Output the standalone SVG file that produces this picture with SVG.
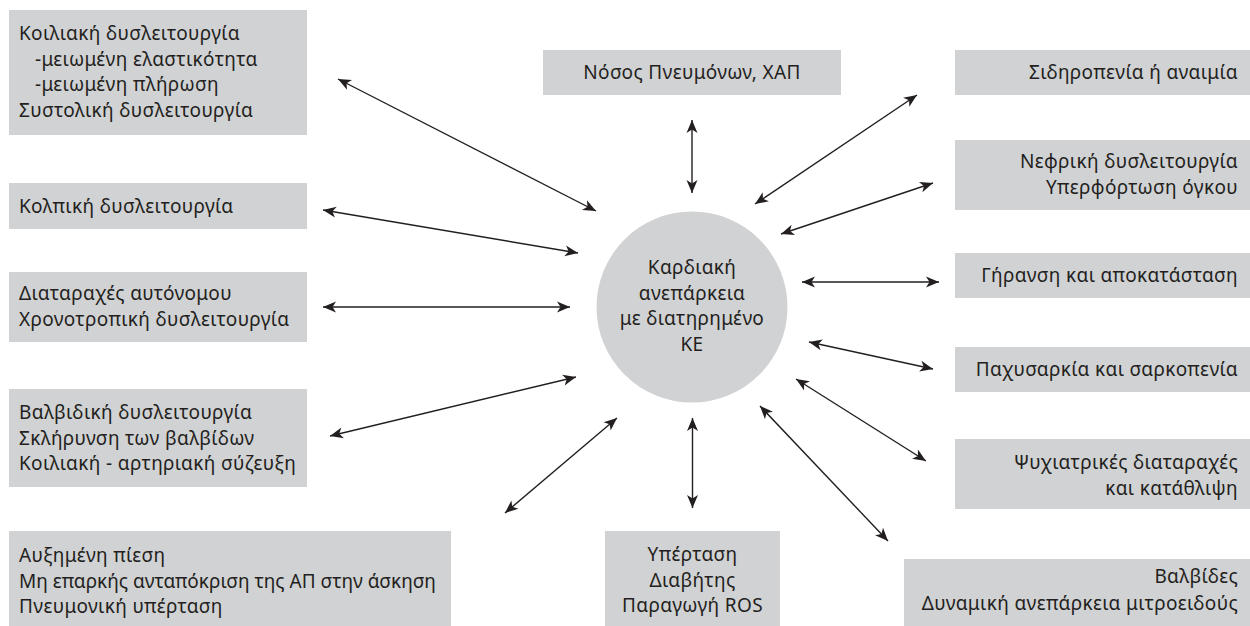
<svg xmlns="http://www.w3.org/2000/svg" width="1250" height="626" viewBox="0 0 1250 626">
  <style>
    .box { fill: #d1d2d4; }
    .t { font-family: "Noto Sans", "Liberation Sans", sans-serif; font-size: 19px; letter-spacing: 0.35px; fill: #231f20; }
    .tight { letter-spacing: 0; }
    .end { text-anchor: end; }
    .mid { text-anchor: middle; }
    .link { stroke: #231f20; stroke-width: 1.4; fill: none; marker-start: url(#head); marker-end: url(#head); }
  </style>
  <defs>
    <marker id="head" viewBox="-14 -7 15 14" refX="0" refY="0" markerWidth="15" markerHeight="14" markerUnits="userSpaceOnUse" orient="auto-start-reverse">
      <path d="M0,0 L-13,-5.5 L-9.5,0 L-13,5.5 Z" fill="#231f20"/>
    </marker>
  </defs>

  <rect width="1250" height="626" fill="#ffffff"/>

  <!-- central node -->
  <g id="center">
    <circle cx="692" cy="307" r="95.5" class="box"/>
    <text class="t mid" x="692" y="274">Καρδιακή</text>
    <text class="t mid" x="692" y="300">ανεπάρκεια</text>
    <text class="t mid" x="692" y="325">με διατηρημένο</text>
    <text class="t mid" x="692" y="351">ΚΕ</text>
  </g>

  <!-- left column -->
  <g id="ventricular">
    <rect x="9" y="10" width="298" height="125" class="box"/>
    <text class="t" x="19" y="40">Κοιλιακή δυσλειτουργία</text>
    <text class="t" x="35" y="65.7">-μειωμένη ελαστικότητα</text>
    <text class="t" x="35" y="91.3">-μειωμένη πλήρωση</text>
    <text class="t" x="19" y="117">Συστολική δυσλειτουργία</text>
  </g>
  <g id="atrial">
    <rect x="9" y="183" width="298" height="46" class="box"/>
    <text class="t" x="19" y="212.5">Κολπική δυσλειτουργία</text>
  </g>
  <g id="autonomic">
    <rect x="9" y="272" width="298" height="70" class="box"/>
    <text class="t" x="19" y="300">Διαταραχές αυτόνομου</text>
    <text class="t" x="19" y="326">Χρονοτροπική δυσλειτουργία</text>
  </g>
  <g id="valvular">
    <rect x="9" y="389" width="298" height="98" class="box"/>
    <text class="t" x="19" y="419">Βαλβιδική δυσλειτουργία</text>
    <text class="t" x="19" y="444.5">Σκλήρυνση των βαλβίδων</text>
    <text class="t" x="19" y="470">Κοιλιακή - αρτηριακή σύζευξη</text>
  </g>
  <g id="pressure">
    <rect x="9" y="531" width="442" height="95" class="box"/>
    <text class="t" x="19" y="562">Αυξημένη πίεση</text>
    <text class="t tight" x="19" y="588">Μη επαρκής ανταπόκριση της ΑΠ στην άσκηση</text>
    <text class="t" x="19" y="613">Πνευμονική υπέρταση</text>
  </g>

  <!-- top and bottom middle -->
  <g id="lung">
    <rect x="543" y="50" width="298" height="45" class="box"/>
    <text class="t mid" x="692" y="79">Νόσος Πνευμόνων, ΧΑΠ</text>
  </g>
  <g id="risk">
    <rect x="605" y="531" width="175" height="95" class="box"/>
    <text class="t mid" x="692.5" y="561">Υπέρταση</text>
    <text class="t mid" x="692.5" y="586.5">Διαβήτης</text>
    <text class="t mid" x="692.5" y="612">Παραγωγή ROS</text>
  </g>

  <!-- right column -->
  <g id="iron">
    <rect x="955" y="50" width="295" height="45" class="box"/>
    <text class="t end" x="1238" y="79">Σιδηροπενία ή αναιμία</text>
  </g>
  <g id="renal">
    <rect x="955" y="140" width="295" height="70" class="box"/>
    <text class="t end" x="1238" y="168">Νεφρική δυσλειτουργία</text>
    <text class="t end" x="1238" y="194">Υπερφόρτωση όγκου</text>
  </g>
  <g id="ageing">
    <rect x="955" y="253" width="295" height="45" class="box"/>
    <text class="t end" x="1238" y="282">Γήρανση και αποκατάσταση</text>
  </g>
  <g id="obesity">
    <rect x="955" y="347" width="295" height="45" class="box"/>
    <text class="t end" x="1238" y="376">Παχυσαρκία και σαρκοπενία</text>
  </g>
  <g id="psychiatric">
    <rect x="955" y="439" width="295" height="70" class="box"/>
    <text class="t end" x="1238" y="469">Ψυχιατρικές διαταραχές</text>
    <text class="t end" x="1238" y="495">και κατάθλιψη</text>
  </g>
  <g id="valves">
    <rect x="904" y="559" width="346" height="67" class="box"/>
    <text class="t end" x="1238" y="583">Βαλβίδες</text>
    <text class="t end" x="1238" y="610">Δυναμική ανεπάρκεια μιτροειδούς</text>
  </g>

  <!-- double-headed connectors -->
  <g id="connectors">
    <line class="link" x1="338" y1="79" x2="596" y2="211"/>
    <line class="link" x1="323" y1="210" x2="578" y2="253"/>
    <line class="link" x1="323" y1="307" x2="570" y2="307"/>
    <line class="link" x1="330" y1="436" x2="576" y2="377"/>
    <line class="link" x1="505" y1="513" x2="617" y2="418"/>
    <line class="link" x1="692.5" y1="418" x2="692.5" y2="508"/>
    <line class="link" x1="760" y1="406" x2="888" y2="541"/>
    <line class="link" x1="796" y1="379" x2="926" y2="461"/>
    <line class="link" x1="809" y1="342" x2="933" y2="369"/>
    <line class="link" x1="802" y1="282" x2="939" y2="282"/>
    <line class="link" x1="781" y1="234" x2="933" y2="183"/>
    <line class="link" x1="755" y1="204" x2="917" y2="95"/>
    <line class="link" x1="692" y1="120" x2="692" y2="193"/>
  </g>
</svg>
